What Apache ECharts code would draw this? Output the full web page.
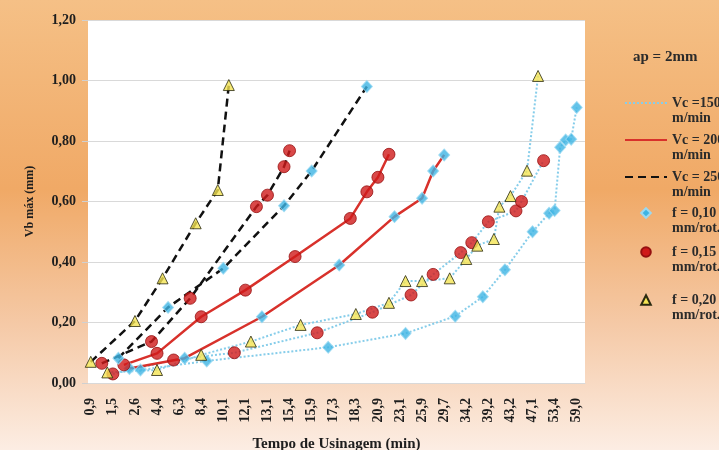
<!DOCTYPE html>
<html>
<head>
<meta charset="utf-8">
<script src="https://cdn.jsdelivr.net/npm/echarts@6/dist/echarts.min.js"></script>
<style>
  html, body { margin: 0; padding: 0; }
  #chart {
    width: 719px; height: 450px;
    background: linear-gradient(180deg, #f5c086 0%, #f0a966 42%, #f5c9a6 72%, #fcede3 100%);
  }
</style>
</head>
<body>
<div id="chart"></div>
<script>
// Time axis: every 4th slot carries a label (minutes)
const tickLabels = ['0,9', '1,5', '2,6', '4,4', '6,3', '8,4', '10,1', '12,1', '13,1', '15,4', '15,9',
  '17,3', '18,3', '20,9', '23,1', '25,9', '29,7', '34,2', '39,2', '43,2', '47,1', '53,4', '59,0'];
const slotsPerLabel = 4;
const slotCount = 90;

// Flank wear Vb max (mm) per test; *Pos = slot on the time axis
// Vc = 150 m/min
const vc150f010Pos  = [9, 21, 43, 57, 66, 71, 75, 80, 83, 84, 85, 86, 87, 88];
const vc150f010Wear = [0.043, 0.073, 0.118, 0.164, 0.221, 0.285, 0.374, 0.500, 0.561, 0.570, 0.779, 0.803, 0.806, 0.911];
const vc150f015Pos  = [4, 15, 26, 41, 51, 58, 62, 67, 69, 72, 77, 78, 82];
const vc150f015Wear = [0.030, 0.076, 0.100, 0.166, 0.234, 0.291, 0.359, 0.431, 0.464, 0.533, 0.569, 0.600, 0.735];
const vc150f020Pos  = [3, 12, 20, 29, 38, 48, 54, 57, 60, 65, 68, 70, 73, 74, 76, 79, 81];
const vc150f020Wear = [0.035, 0.043, 0.093, 0.137, 0.192, 0.228, 0.265, 0.337, 0.337, 0.346, 0.410, 0.454, 0.476, 0.583, 0.618, 0.702, 1.015];
// Vc = 200 m/min
const vc200f010Pos  = [7, 17, 31, 45, 55, 60, 62, 64];
const vc200f010Wear = [0.048, 0.082, 0.219, 0.390, 0.550, 0.611, 0.701, 0.754];
const vc200f015Pos  = [6, 12, 20, 28, 37, 47, 50, 52, 54];
const vc200f015Wear = [0.060, 0.098, 0.219, 0.307, 0.418, 0.544, 0.632, 0.680, 0.756];
// Vc = 250 m/min
const vc250f010Pos  = [5, 14, 24, 35, 40, 50];
const vc250f010Wear = [0.082, 0.250, 0.379, 0.586, 0.701, 0.980];
const vc250f015Pos  = [2, 11, 18, 30, 32, 35, 36];
const vc250f015Wear = [0.065, 0.137, 0.280, 0.583, 0.621, 0.715, 0.768];
const vc250f020Pos  = [0, 8, 13, 19, 23, 25];
const vc250f020Wear = [0.070, 0.205, 0.346, 0.528, 0.638, 0.985];

const legendNames = ['Vc =150\nm/min', 'Vc = 200\nm/min', 'Vc = 250\nm/min',
  'f = 0,10\nmm/rot.', 'f = 0,15\nmm/rot.', 'f = 0,20\nmm/rot.'];

// category list: label on every 4th slot
const categories = [];
tickLabels.forEach(t => { categories.push(t); for (let k = 1; k < slotsPerLabel; k++) categories.push(''); });
categories.length = slotCount;

const FONT = 'Liberation Serif';
const lineStyles = {
  150: { color: '#86cdea', width: 2, type: [2, 2] },
  200: { color: '#d8312b', width: 2.5, type: 'solid' },
  250: { color: '#111111', width: 2.5, type: [8, 5] }
};
const markers = {
  '0,10': { symbol: 'diamond', symbolSize: [11, 12], itemStyle: { color: '#3db4e4', borderColor: '#9ad9f2', borderWidth: 1 } },
  '0,15': { symbol: 'circle', symbolSize: 12, itemStyle: { color: '#d01a1a', borderColor: '#961010', borderWidth: 1 } },
  '0,20': { symbol: 'triangle', symbolSize: 11, itemStyle: { color: '#f4e453', borderColor: '#2a2a10', borderWidth: 1 } }
};

const tests = [
  { vc: 150, f: '0,10', pos: vc150f010Pos, wear: vc150f010Wear },
  { vc: 150, f: '0,15', pos: vc150f015Pos, wear: vc150f015Wear },
  { vc: 150, f: '0,20', pos: vc150f020Pos, wear: vc150f020Wear },
  { vc: 200, f: '0,10', pos: vc200f010Pos, wear: vc200f010Wear },
  { vc: 200, f: '0,15', pos: vc200f015Pos, wear: vc200f015Wear },
  { vc: 250, f: '0,10', pos: vc250f010Pos, wear: vc250f010Wear },
  { vc: 250, f: '0,15', pos: vc250f015Pos, wear: vc250f015Wear },
  { vc: 250, f: '0,20', pos: vc250f020Pos, wear: vc250f020Wear }
];

const series = [];
// lines first, markers on top of every line
tests.forEach(t => {
  series.push({
    name: 'Vc ' + t.vc + ' f ' + t.f, type: 'line', z: 2,
    data: t.pos.map((p, i) => [p, t.wear[i]]),
    symbol: 'none', lineStyle: lineStyles[t.vc], silent: true, animation: false
  });
});
tests.forEach(t => {
  const m = markers[t.f];
  series.push({
    name: 'pt ' + t.vc + ' ' + t.f, type: 'scatter', z: 3,
    data: t.pos.map((p, i) => [p, t.wear[i]]),
    symbol: m.symbol, symbolSize: m.symbolSize, itemStyle: m.itemStyle, animation: false
  });
});

// legend-only entries
[150, 200, 250].forEach((vc, i) => {
  series.push({ name: legendNames[i], type: 'line', data: [], symbol: 'none', lineStyle: lineStyles[vc], itemStyle: { color: lineStyles[vc].color } });
});
['0,10', '0,15', '0,20'].forEach((f, i) => {
  const m = markers[f];
  series.push({ name: legendNames[3 + i], type: 'line', data: [], symbol: m.symbol, itemStyle: m.itemStyle, lineStyle: { opacity: 0 } });
});

// one legend block per entry; an empty lead line keeps the icon level with the first text line
const LH = 15;
const legendCenters = [103, 140, 177, 213, 252, 300];
const legends = legendNames.map((name, i) => ({
  data: [name], left: 624, top: legendCenters[i] - 1.5 * LH, orient: 'vertical', padding: 0,
  itemWidth: 42, itemHeight: 12, selectedMode: false,
  formatter: n => '\n' + n,
  itemStyle: i < 3 ? { opacity: 0 } : {},
  lineStyle: i < 3 ? {} : { opacity: 0 },
  textStyle: { fontFamily: FONT, fontWeight: 'bold', fontSize: 14, color: '#2b2b2b', lineHeight: LH }
}));

const chart = echarts.init(document.getElementById('chart'), null, { renderer: 'canvas' });
chart.setOption({
  backgroundColor: 'transparent',
  animation: false,
  title: { text: 'ap = 2mm', left: 633, top: 50, padding: 0,
    textStyle: { fontFamily: FONT, fontWeight: 'bold', fontSize: 15, color: '#2b2b2b' } },
  legend: legends,
  grid: { left: 88, top: 20, width: 497, height: 363, show: true, backgroundColor: '#ffffff', borderWidth: 0,
    containLabel: false, outerBoundsMode: 'none' },
  xAxis: {
    type: 'category', data: categories, boundaryGap: true,
    axisLine: { show: true, lineStyle: { color: '#d9d9d9' } },
    axisTick: { show: false },
    axisLabel: { interval: slotsPerLabel - 1, rotate: 90, margin: 15, fontFamily: FONT, fontWeight: 'bold', fontSize: 14, color: '#1e1e1e' },
    name: 'Tempo de Usinagem (min)', nameLocation: 'middle', nameGap: 54,
    nameTextStyle: { fontFamily: FONT, fontWeight: 'bold', fontSize: 15, color: '#1e1e1e' }
  },
  yAxis: {
    type: 'value', min: 0, max: 1.2, interval: 0.2,
    axisLine: { show: false },
    axisTick: { show: true, length: 6, lineStyle: { color: '#d0d0d0' } },
    splitLine: { lineStyle: { color: '#d9d9d9', width: 1 } },
    axisLabel: { formatter: v => v.toFixed(2).replace('.', ','), margin: 12, fontFamily: FONT, fontWeight: 'bold', fontSize: 14, color: '#1e1e1e' },
    name: 'Vb máx (mm)', nameLocation: 'middle', nameGap: 52,
    nameTextStyle: { fontFamily: FONT, fontWeight: 'bold', fontSize: 12, color: '#1e1e1e' }
  },
  series: series
});
</script>
</body>
</html>
